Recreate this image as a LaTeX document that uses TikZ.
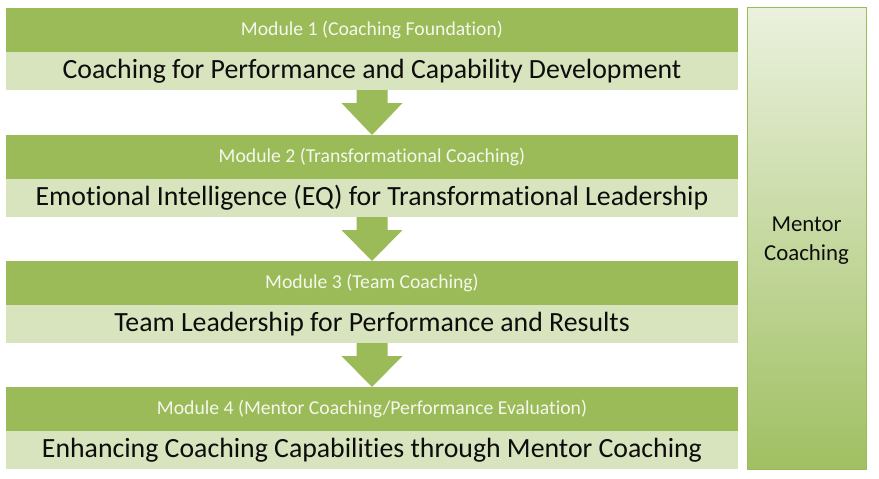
\documentclass[tikz,border=0pt]{standalone}
\usepackage{fontspec}
\setmainfont{Carlito}[Ligatures=NoCommon]
\usetikzlibrary{calc}
\definecolor{dkgreen}{HTML}{9BBB59}
\definecolor{ltgreen}{HTML}{D7E4BD}
\definecolor{mtop}{HTML}{EBF1DE}
\definecolor{mbot}{HTML}{A0C062}
\definecolor{headtxt}{HTML}{F4F8EC}
\definecolor{bodytxt}{HTML}{0D0D0D}
\tikzset{
  headbox/.style={fill=dkgreen, draw=none, minimum width=732pt, minimum height=44pt,
    inner sep=0pt, outer sep=0pt, text=headtxt, font=\fontsize{19.7}{24}\selectfont},
  bodybox/.style={fill=ltgreen, draw=none, minimum width=732pt, minimum height=38pt,
    inner sep=0pt, outer sep=0pt, text=bodytxt, font=\fontsize{27.8}{33}\selectfont},
  mentorbox/.style={top color=mtop, bottom color=mbot, draw=dkgreen, line width=0.8pt,
    minimum width=119pt, minimum height=462pt, inner sep=0pt, outer sep=0pt},
  mentortext/.style={text=bodytxt, align=center, inner sep=0pt,
    font=\fontsize{22.8}{29}\selectfont},
  arrowfill/.style={fill=dkgreen, draw=none}
}
\newcommand\blockarrow[2]{%
  \fill[arrowfill] ([xshift=-15.5pt]#1.south) -- ([xshift=15.5pt]#1.south)
    -- ([xshift=15.5pt,yshift=-13pt]#1.south) -- ([xshift=30.5pt,yshift=-13pt]#1.south)
    -- (#2.north) -- ([xshift=-30.5pt,yshift=-13pt]#1.south)
    -- ([xshift=-15.5pt,yshift=-13pt]#1.south) -- cycle;}
\begin{document}
\begin{tikzpicture}[x=1pt,y=-1pt]
\useasboundingbox (0,0) rectangle (879,479);
\fill[white] (0,0) rectangle (879,479);
\node[headbox, anchor=north west] (h1) at (6,8) {Module 1 (Coaching Foundation)};
\node[bodybox, anchor=north] (b1) at (h1.south) {Coaching for Performance and Capability Development};
\node[headbox, anchor=north west] (h2) at (6,135) {Module 2 (Transformational Coaching)};
\node[bodybox, anchor=north] (b2) at (h2.south) {Emotional Intelligence (EQ) for Transformational Leadership};
\node[headbox, anchor=north west] (h3) at (6,261) {Module 3 (Team Coaching)};
\node[bodybox, anchor=north] (b3) at (h3.south) {Team Leadership for Performance and Results};
\node[headbox, anchor=north west] (h4) at (6,387) {Module 4 (Mentor Coaching/Performance Evaluation)};
\node[bodybox, anchor=north] (b4) at (h4.south) {Enhancing Coaching Capabilities through Mentor Coaching};
\blockarrow{b1}{h2}
\blockarrow{b2}{h3}
\blockarrow{b3}{h4}
\node[mentorbox, anchor=north west] (mc) at (747,7) {};
\node[mentortext] (mct) at ([yshift=-3pt]mc.center) {Mentor\\Coaching};
\end{tikzpicture}
\end{document}
